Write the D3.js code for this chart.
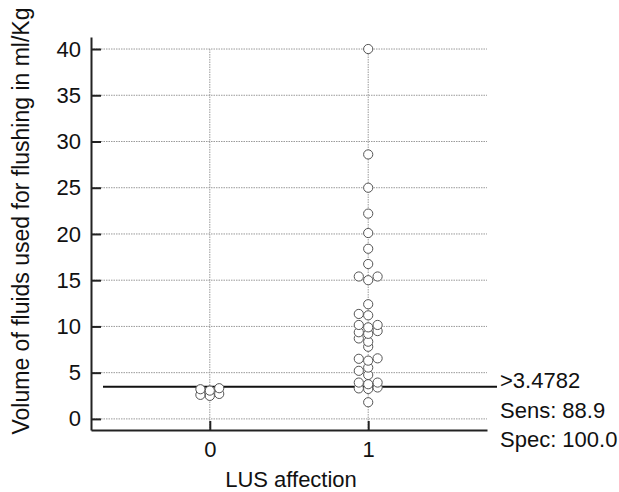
<!DOCTYPE html>
<html>
<head>
<meta charset="utf-8">
<script src="https://cdn.jsdelivr.net/npm/d3@7"></script>
<style>
  body { margin: 0; background: #fff; }
  text { font-family: "Liberation Sans", Arial, sans-serif; fill: #111; }
  .grid { stroke: #999; stroke-width: 1; stroke-dasharray: 1.5,1; }
</style>
</head>
<body>
<div id="chart"></div>
<script>

//data
var groups = [0, 1];
var group0 = [2.49, 2.6, 2.7, 3.06, 3.21, 3.32];
var group1 = [40, 28.6, 25.0, 22.2, 20.1, 18.4, 16.75, 15.4, 15.4, 15.0, 12.4, 11.35, 11.2,
              10.16, 10.16, 9.9, 9.5, 9.37, 9.2, 8.7, 8.35, 7.8, 6.55, 6.5, 6.3, 5.55, 5.2,
              4.75, 3.93, 3.93, 3.75, 3.4, 3.3, 3.24, 1.8];
var yTicks = [0, 5, 10, 15, 20, 25, 30, 35, 40];
var cutoff = 3.4782;
var statLines = [">3.4782", "Sens: 88.9", "Spec: 100.0"];

var width = 619, height = 492;
var r = 4.6;

var svg = d3.select("#chart")
  .append("svg")
  .attr("width", width)
  .attr("height", height);

//scales
var xScale = d3.scaleLinear().domain([-0.75, 1.75]).range([91, 487]);
var yScale = d3.scaleLinear().domain([-1.2, 41.3]).range([430, 37]);

//grid
svg.selectAll(".hgrid")
  .data(yTicks)
  .enter()
  .append("line")
  .attr("class", "grid")
  .attr("x1", xScale(-0.75))
  .attr("x2", xScale(1.75))
  .attr("y1", function(d) { return yScale(d); })
  .attr("y2", function(d) { return yScale(d); });

svg.selectAll(".vgrid")
  .data(groups)
  .enter()
  .append("line")
  .attr("class", "grid")
  .attr("x1", function(d) { return xScale(d); })
  .attr("x2", function(d) { return xScale(d); })
  .attr("y1", yScale(40))
  .attr("y2", yScale(-1.2));

//y axis
var yAxis = d3.axisLeft(yScale)
  .tickValues(yTicks)
  .tickSizeInner(-10)
  .tickSizeOuter(0)
  .tickPadding(10);

var gy = svg.append("g")
  .attr("transform", "translate(" + xScale(-0.75) + ",0)")
  .call(yAxis);
gy.select(".domain").attr("stroke", "#222").attr("stroke-width", 2);
gy.selectAll(".tick line").attr("stroke", "#222").attr("stroke-width", 2);
gy.selectAll("text").style("font-size", "22px").attr("fill", "#111");

//x axis
var xAxis = d3.axisBottom(xScale)
  .tickValues(groups)
  .tickFormat(d3.format("d"))
  .tickSizeInner(-9)
  .tickSizeOuter(0)
  .tickPadding(11);

var gx = svg.append("g")
  .attr("transform", "translate(0," + yScale(-1.2) + ")")
  .call(xAxis);
gx.select(".domain").attr("stroke", "#222").attr("stroke-width", 2);
gx.selectAll(".tick line").attr("stroke", "#222").attr("stroke-width", 2);
gx.selectAll("text").style("font-size", "22px").attr("fill", "#111");

//cutoff line
svg.append("line")
  .attr("x1", 103)
  .attr("x2", 497)
  .attr("y1", yScale(cutoff))
  .attr("y2", yScale(cutoff))
  .attr("stroke", "#111")
  .attr("stroke-width", 2);

//dodge points on a half-marker grid: a slot is taken when a placed
//point sits in the same or a neighbouring column and close in height
function dodge(values, g) {
  var placed = [];
  var step = r + 0.1;
  values.slice().sort(function(a, b) { return a - b; }).forEach(function(v) {
    var y = yScale(v);
    for (var k = 0; k < 40; k++) {
      var col = k === 0 ? 0 : (k % 2 ? -Math.ceil(k / 2) : k / 2);
      var ok = placed.every(function(p) {
        return Math.abs(p.col - col) >= 2 || Math.abs(p.y - y) >= 4.5;
      });
      if (ok) { placed.push({v: v, g: g, y: y, col: col, off: col * step}); break; }
    }
  });
  return placed;
}

var points = dodge(group0, 0).concat(dodge(group1, 1));

svg.selectAll(".dot")
  .data(points)
  .enter()
  .append("circle")
  .attr("class", "dot")
  .attr("cx", function(d) { return xScale(d.g) + d.off; })
  .attr("cy", function(d) { return d.y; })
  .attr("r", r)
  .attr("fill", "#fff")
  .attr("stroke", "#555")
  .attr("stroke-width", 1);

//stats text
svg.selectAll(".stat")
  .data(statLines)
  .enter()
  .append("text")
  .attr("class", "stat")
  .attr("x", 500)
  .attr("y", function(d, i) { return 388 + i * 29.5; })
  .style("font-size", "22px")
  .text(function(d) { return d; });

//axis titles
svg.append("text")
  .attr("x", 291)
  .attr("y", 487)
  .style("text-anchor", "middle")
  .style("font-size", "22px")
  .text("LUS affection");

svg.append("text")
  .attr("transform", "translate(29,221) rotate(-90)")
  .style("text-anchor", "middle")
  .style("font-size", "23px")
  .text("Volume of fluids used for flushing in ml/Kg");

</script>
</body>
</html>
